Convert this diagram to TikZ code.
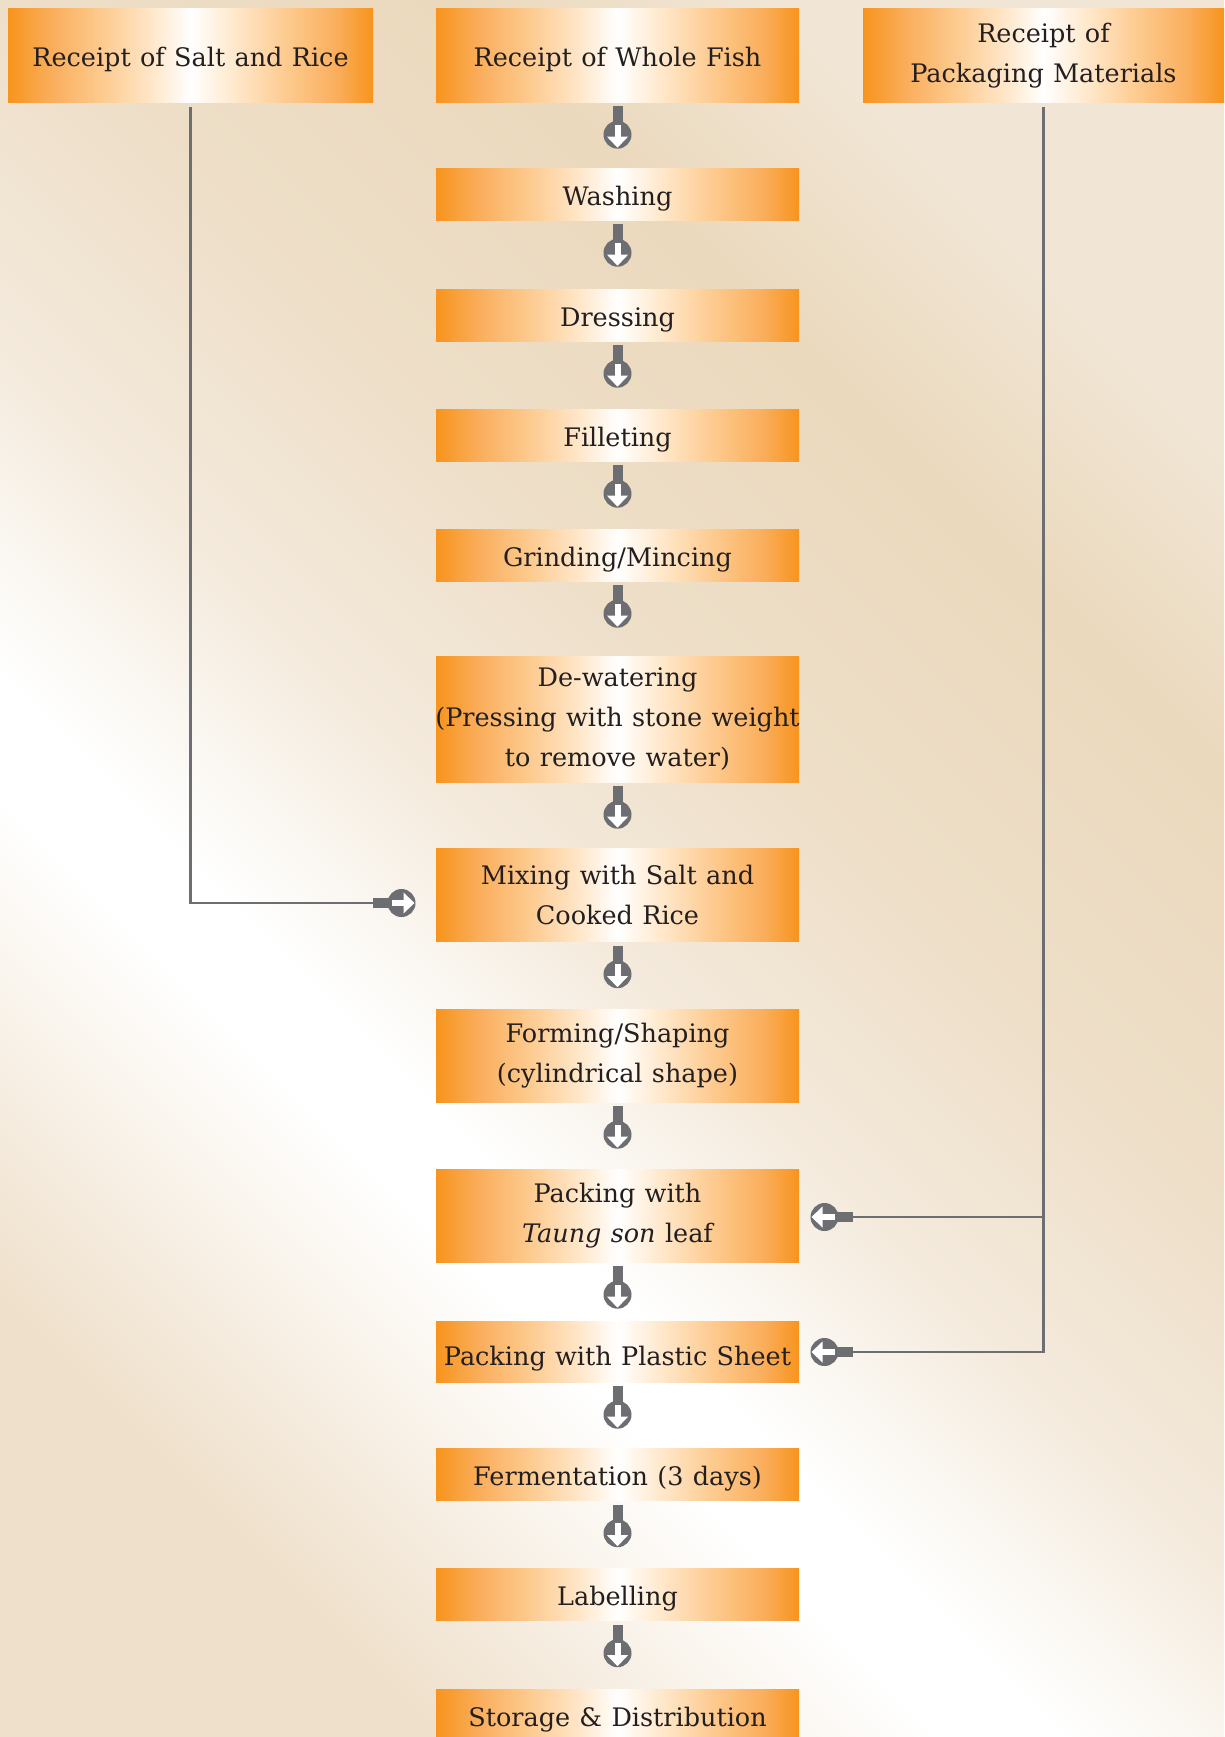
\documentclass[tikz,border=0pt]{standalone}
\usepackage{fontspec}
\setmainfont{DejaVu Serif}[WordSpace=1.15]
\usetikzlibrary{calc}

% palette
\definecolor{flowgrey}{HTML}{6D6E71}
\definecolor{inktext}{HTML}{231F20}
\definecolor{boxorange}{HTML}{F7941D}
\definecolor{orangeB}{HTML}{FAAE5C}
\definecolor{peachA}{HTML}{FDCB90}
\definecolor{peachB}{HTML}{FFE8CC}
\definecolor{bgA}{HTML}{F1E6D6}
\definecolor{bgB}{HTML}{EBD9BD}
\definecolor{bgC}{HTML}{EEDFC9}
\definecolor{bgD}{HTML}{F4EADC}
\definecolor{bgE}{HTML}{FAF5EE}
\definecolor{bgF}{HTML}{EFE0CB}

% orange bar fading to white in the middle
\pgfdeclarehorizontalshading{boxglow}{100bp}{
  color(0bp)=(boxorange); color(25bp)=(boxorange); color(31bp)=(orangeB);
  color(38bp)=(peachA); color(45bp)=(peachB); color(50bp)=(white);
  color(56bp)=(peachB); color(63bp)=(peachA); color(70bp)=(orangeB);
  color(75bp)=(boxorange); color(100bp)=(boxorange)}

% cream backdrop with a pale diagonal band
\pgfdeclarehorizontalshading{backdrop}{100bp}{
  color(0bp)=(bgA); color(25bp)=(bgA); color(33bp)=(bgB); color(44bp)=(bgC);
  color(52bp)=(bgD); color(60bp)=(white); color(63bp)=(white);
  color(67bp)=(bgE); color(75bp)=(bgF); color(100bp)=(bgF)}

\tikzset{
  stage/.style={shading=boxglow, minimum width=363, inner sep=0pt,
    align=center, text=inktext, font=\fontsize{25.5}{40}\selectfont},
  % single-line labels sit a little below the box centre
  oneline/.style={execute at begin node={\rule[-6.5pt]{0pt}{35pt}}},
  onelinelow/.style={execute at begin node={\rule[-6.5pt]{0pt}{41pt}}},
  twolinelow/.style={execute at begin node={\rule{0pt}{24pt}}},
  feed/.style={draw=flowgrey, line width=2.6pt},
  flowicon/.pic={
    \fill[flowgrey] (-5,0) rectangle (5,19);
    \fill[flowgrey] (0,28.5) circle (14);
    \fill[white] (-3,18.5) rectangle (3,31);
    \fill[white] (-10.5,30.5) -- (10.5,30.5) -- (0,41.5) -- cycle;
  }
}

\begin{document}
\begin{tikzpicture}[x=1pt, y=-1pt]
\useasboundingbox (0,0) rectangle (1224,1737);
\shade[shading=backdrop, shading angle=225] (0,0) rectangle (1224,1737);

% source boxes
\node[stage, oneline, minimum width=365, minimum height=93] (salt) at (190.5,55.5) {Receipt of Salt and Rice};
\node[stage, oneline, minimum height=93] (fish) at (617.5,55.5) {Receipt of Whole Fish};
\node[stage, twolinelow, minimum width=361, minimum height=93] (pack) at (1043.5,55.5) {Receipt of\\Packaging Materials};

% main process column
\node[stage, oneline, minimum height=52] (wash) at (617.5,194) {Washing};
\node[stage, oneline, minimum height=52] (dress) at (617.5,315) {Dressing};
\node[stage, oneline, minimum height=52] (fillet) at (617.5,435) {Filleting};
\node[stage, oneline, minimum height=52] (grind) at (617.5,555) {Grinding/Mincing};
\node[stage, minimum height=126] (dewater) at (617.5,719) {De-watering\\\makebox[0pt]{(Pressing with stone weight}\\to remove water)};
\node[stage, minimum height=93] (mix) at (617.5,895) {Mixing with Salt and\\Cooked Rice};
\node[stage, minimum height=93] (form) at (617.5,1055.5) {Forming/Shaping\\(cylindrical shape)};
\node[stage, minimum height=93] (leaf) at (617.5,1215.5) {Packing with\\\textit{Taung son} leaf};
\node[stage, onelinelow, minimum height=61] (plastic) at (617.5,1351.5) {Packing with Plastic Sheet};
\node[stage, oneline, minimum height=52] (ferment) at (617.5,1474.5) {Fermentation (3 days)};
\node[stage, oneline, minimum height=52] (label) at (617.5,1594.5) {Labelling};
\node[stage, oneline, minimum height=52] (store) at (617.5,1715) {Storage \& Distribution};

% step arrows down the column
\foreach \a in {fish,wash,dress,fillet,grind,dewater,mix,form,leaf,plastic,ferment,label}
  \path ($(\a.south)+(0,4)$) pic {flowicon};

% salt and rice feed into mixing
\coordinate (mixin) at (373,903);
\draw[feed] ($(salt.south)+(0,5)$) |- (mixin);
\path (mixin) pic[rotate=90] {flowicon};

% packaging materials feed into both packing steps
\coordinate (leafin) at (853,1217);
\coordinate (plastin) at (853,1352);
\draw[feed] ($(pack.south)+(0,5)$) |- (plastin);
\draw[feed] (leafin -| pack.south) -- (leafin);
\path (leafin) pic[rotate=-90] {flowicon};
\path (plastin) pic[rotate=-90] {flowicon};
\end{tikzpicture}
\end{document}
